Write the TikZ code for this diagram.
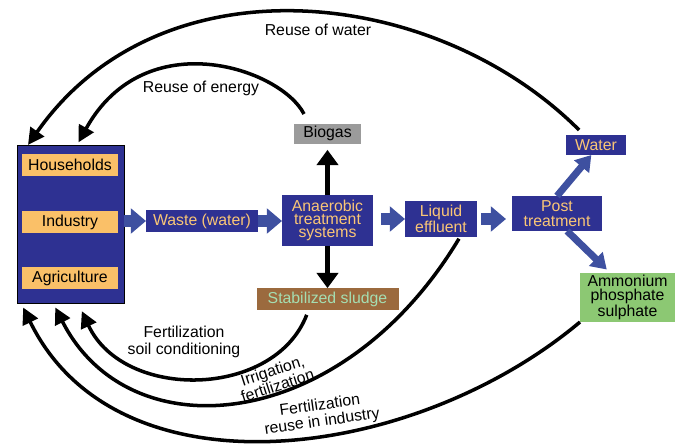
\documentclass[tikz,border=0pt]{standalone}
\usepackage{fontspec}
\setmainfont{Liberation Sans}
\usepackage{xcolor}
\definecolor{boxblue}{RGB}{46,49,146}
\definecolor{flowblue}{RGB}{62,80,160}
\definecolor{boxorange}{RGB}{250,192,104}
\definecolor{textorange}{RGB}{250,198,118}
\definecolor{gasgray}{RGB}{155,155,155}
\definecolor{sludgebrown}{RGB}{155,106,62}
\definecolor{sludgetext}{RGB}{165,222,178}
\definecolor{ammgreen}{RGB}{140,200,115}
\usepackage{tikz}
\usetikzlibrary{positioning}
\usetikzlibrary{arrows.meta}

\begin{document}
\begin{tikzpicture}[x=0.03cm,y=0.03cm,
    every node/.style={inner sep=0,outer sep=0,align=center,font=\fontsize{13.5}{12.5}\selectfont},
    unit/.style={fill=boxblue,text=textorange},
    sector/.style={fill=boxorange,text=black,minimum width=2.88cm,minimum height=0.66cm},
    flow/.style={draw=flowblue,line width=10pt,-{Triangle[width=21pt,length=13pt]}},
    split/.style={draw=flowblue,line width=6pt,-{Triangle[width=16pt,length=13pt]}},
    product/.style={draw=black,line width=5pt,-{Triangle[width=18pt,length=13pt]}},
    back/.style={draw=black,line width=3pt,-{Triangle[width=14pt,length=14pt]}},
    lbl/.style={font=\fontsize{13.5}{15}\selectfont}]
	\useasboundingbox (0,0) rectangle (683,445);
	% users
	\node (sys) [draw=black,line width=0.6pt,fill=boxblue,minimum width=3.21cm,minimum height=4.74cm] at (70.5,221) {};
	\node (hh) [sector] at (70,280) {Households};
	\node (ind) [sector] at (70,223) {Industry};
	\node (agr) [sector] at (70,167) {Agriculture};
	% treatment chain
	\node (waste) [unit,minimum width=3.36cm,minimum height=0.66cm] at (202,224) {Waste (water)};
	\node (ana) [unit,minimum width=2.73cm,minimum height=1.5cm,font=\fontsize{13.5}{11}\selectfont] at (327.5,224.5) {Anaerobic\\treatment\\systems};
	\node (bio) [fill=gasgray,minimum width=2.01cm,minimum height=0.6cm,above=1.55cm of ana] {Biogas};
	\node (sludge) [fill=sludgebrown,text=sludgetext,minimum width=4.26cm,minimum height=0.66cm,below=1.28cm of ana] {Stabilized sludge};
	\node (liq) [unit,minimum width=2.16cm,minimum height=1.08cm] at (441,226) {Liquid\\effluent};
	\node (post) [unit,minimum width=2.7cm,minimum height=1.05cm] at (557,231.5) {Post\\treatment};
	\node (water) [unit,minimum width=1.8cm,minimum height=0.6cm] at (596,300) {Water};
	\node (amm) [fill=ammgreen,minimum width=2.85cm,minimum height=1.47cm] at (627.5,147.5) {Ammonium\\phosphate\\sulphate};
	% flows
	\draw[flow] (sys.east |- waste.west) -- (waste.west);
	\draw[flow] (waste.east) -- (ana.west |- waste.east);
	\draw[flow,shorten <=0.24cm] (ana.east |- liq.west) -- (liq.west);
	\draw[flow,shorten <=0.12cm,shorten >=0.18cm] (liq.east) -- (post.west |- liq.east);
	\draw[split] (post.north) -- (water.-115);
	\draw[split,shorten >=0.15cm] (post.-60) -- (amm.125);
	\draw[product,shorten >=0.18cm] (ana.north) -- (bio.south);
	\draw[product] (ana.south) -- (sludge.north);
	% reuse loops
	\draw[back,shorten <=0.21cm] (water.140) to[out=135,in=55,out looseness=0.97,in looseness=1.06] ([xshift=0.33cm]sys.north west);
	\draw[back,shorten <=0.33cm,shorten >=0.09cm] ([xshift=0.45cm]bio.north west) to[out=117,in=61,out looseness=0.68,in looseness=1.54] ([xshift=1.8cm]sys.north west);
	\draw[back,shorten <=0.15cm,shorten >=0.27cm] ([xshift=-0.57cm]sludge.south) to[out=-111,in=-65,out looseness=1.05,in looseness=1.2] ([xshift=1.83cm]sys.south west);
	\draw[back,shorten <=0.06cm,shorten >=0.15cm] ([xshift=0.57cm]liq.south) to[out=-121,in=-63,out looseness=1.42,in looseness=1.05] ([xshift=1.08cm]sys.south west);
	\draw[back,shorten >=0.15cm] (amm.south west) to[out=-140,in=-64,looseness=1] ([xshift=0.12cm]sys.south west);
	% labels
	\node (lwater) [lbl] at (318,415) {Reuse of water};
	\node (lenergy) [lbl] at (201,357) {Reuse of energy};
	\node (lsoil) [lbl] at (184,103) {Fertilization\\soil conditioning};
	\node (lirr) [lbl,rotate=18,font=\fontsize{13.5}{13.5}\selectfont] at (275,67) {Irrigation,\\fertilization};
	\node (lind) [lbl,rotate=8,font=\fontsize{13.5}{14}\selectfont] at (321,31) {Fertilization\\reuse in industry};
\end{tikzpicture}
\end{document}
